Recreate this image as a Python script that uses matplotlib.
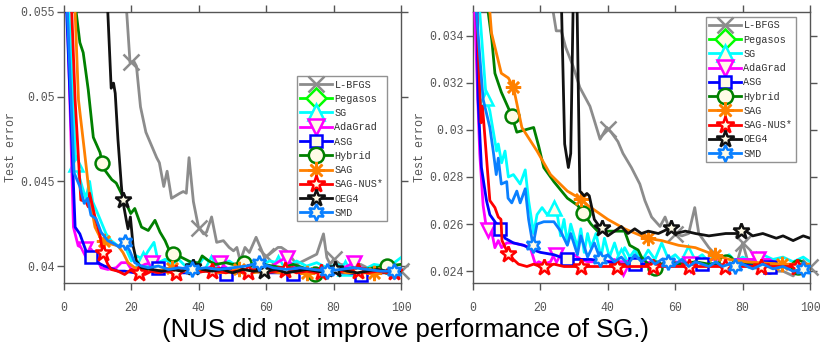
import numpy as np
import matplotlib
matplotlib.use("Agg")
from matplotlib import pyplot as plt
from matplotlib.lines import Line2D

# ---------------- data ----------------
names = ["L-BFGS", "Pegasos", "SG", "AdaGrad", "ASG", "Hybrid", "SAG", "SAG-NUS*", "OEG4", "SMD"]

# left panel
l_lbfgs_x = [0, 17, 18.6, 19.6, 20.7, 21.5, 22.7, 24.3, 27.5, 28.3, 29.6, 30.6, 31.9, 34.4, 35.4, 36.3, 37.1, 38.4,
             39.9, 41.4, 42.3, 43.8, 45.3, 47.3, 49, 50.3, 51.3, 52.3, 53.7, 55, 57, 58.5, 59.5, 61, 63.5, 64.5, 66,
             67.5, 69, 71, 73, 75, 77, 78, 79, 80, 82, 85, 88, 90, 93, 95, 97, 100]
l_lbfgs_y = [0.09, 0.062, 0.055, 0.0520, 0.0521, 0.0518, 0.0494, 0.0479, 0.0464, 0.0461, 0.0447, 0.0456, 0.0440,
             0.0443, 0.0444, 0.0443, 0.0464, 0.0438, 0.0423, 0.0419, 0.0420, 0.0429, 0.0414, 0.0415, 0.0411, 0.0409,
             0.0411, 0.0403, 0.0411, 0.0408, 0.0417, 0.0410, 0.0405, 0.0407, 0.0411, 0.0411, 0.0409, 0.0405, 0.0401,
             0.0403, 0.0405, 0.0407, 0.0419, 0.0405, 0.0401, 0.0404, 0.0401, 0.0400, 0.0401, 0.0399, 0.0400, 0.0397,
             0.0399, 0.0397]
l_pegasos_x = [0, 100]
l_pegasos_y = [0.09, 0.065]
l_sg_x = [0, 1.5, 3.5, 5.5, 6.5, 7.6, 8.5, 10, 12.5, 14, 16, 18, 20, 21.5, 23.5, 25, 26.7, 28, 30, 32, 34, 36, 38,
          40, 41.5, 43.5, 46, 49, 52, 55, 58, 61, 63.5, 66, 69, 72, 75, 78, 81, 83.5, 86, 89, 92, 95, 98, 100]
l_sg_y = [0.09, 0.055, 0.0460, 0.0446, 0.0440, 0.0450, 0.0438, 0.0431, 0.0419, 0.0415, 0.0412, 0.0412, 0.0403,
          0.0406, 0.0404, 0.0409, 0.0414, 0.0402, 0.0404, 0.0401, 0.0404, 0.0400, 0.0403, 0.0401, 0.0405, 0.0402,
          0.0400, 0.0403, 0.0399, 0.0402, 0.0400, 0.0403, 0.0402, 0.0399, 0.0403, 0.0400, 0.0402, 0.0399, 0.0401,
          0.0399, 0.0400, 0.0398, 0.0401, 0.0400, 0.0402, 0.0405]
l_ada_x = [0, 1, 2.8, 4.2, 6.2, 8, 9.2, 11, 13, 15.5, 17, 18.7, 20, 22, 24, 26, 28, 30, 33, 36, 39, 42, 46, 49, 52,
           55, 58, 61, 64, 66, 68, 71, 74, 77, 80, 83, 86, 89, 92, 95, 98, 100]
l_ada_y = [0.09, 0.055, 0.0423, 0.0412, 0.0410, 0.0410, 0.0407, 0.0399, 0.0398, 0.0399, 0.0402, 0.0402, 0.0398,
           0.0399, 0.0401, 0.0402, 0.0399, 0.0398, 0.0397, 0.0399, 0.0397, 0.0398, 0.0402, 0.0398, 0.0397, 0.0398,
           0.0397, 0.0399, 0.0403, 0.0405, 0.0400, 0.0398, 0.0397, 0.0398, 0.0397, 0.0399, 0.0402, 0.0398, 0.0397,
           0.0398, 0.0397, 0.0397]
l_asg_x = [0, 0.8, 3.3, 4.7, 6.7, 8.2, 10, 12, 13.6, 16, 18, 21, 24, 27.5, 30, 34, 38, 42, 47.5, 52, 56, 60, 64,
           67.5, 72, 76, 80, 84, 88, 92, 96, 100]
l_asg_y = [0.09, 0.055, 0.0423, 0.0419, 0.0408, 0.0405, 0.0402, 0.0400, 0.0399, 0.0397, 0.0397, 0.0396, 0.0397,
           0.0399, 0.0397, 0.0396, 0.0396, 0.0397, 0.03955, 0.0396, 0.0397, 0.0396, 0.0396, 0.03955, 0.0396, 0.0397,
           0.0396, 0.0396, 0.0395, 0.0396, 0.0396, 0.0396]
l_hyb_x = [0, 3.6, 4.7, 5.7, 7.2, 8.7, 10.7, 11.6, 14.2, 15.5, 18, 19.8, 21, 23, 25, 27, 28.5, 30, 31.5, 34, 36, 38,
           40, 41, 43, 45, 48, 50, 53, 56, 59, 62, 65, 68, 71, 74.5, 77, 80, 83, 86, 89, 92, 96, 100]
l_hyb_y = [0.09, 0.055, 0.0532, 0.0526, 0.0504, 0.0476, 0.0467, 0.0458, 0.0451, 0.0449, 0.0439, 0.0431, 0.0434,
           0.0423, 0.0421, 0.0427, 0.0420, 0.0415, 0.0408, 0.0406, 0.0404, 0.0402, 0.0402, 0.0406, 0.0403, 0.0401,
           0.0402, 0.0401, 0.0402, 0.0400, 0.0401, 0.0400, 0.0399, 0.0401, 0.0399, 0.0395, 0.0398, 0.0399, 0.0398,
           0.0399, 0.0398, 0.0399, 0.0400, 0.0401]
l_sag_x = [0, 3.3, 4.3, 6, 7.7, 9.2, 10.7, 12, 14, 16, 17.5, 19, 21, 24, 27, 30, 32, 35, 38, 42, 46, 50, 52, 56, 60,
           64, 68, 72, 76, 80, 84, 88, 92, 96, 100]
l_sag_y = [0.09, 0.055, 0.0498, 0.0469, 0.0439, 0.0423, 0.0417, 0.0415, 0.0413, 0.0412, 0.0408, 0.0402, 0.0399,
           0.0398, 0.0397, 0.0398, 0.0399, 0.0397, 0.0397, 0.0397, 0.0396, 0.0397, 0.0398, 0.0396, 0.0397, 0.0396,
           0.0397, 0.0396, 0.0396, 0.0397, 0.0396, 0.0396, 0.0396, 0.0397, 0.0396]
l_nus_x = [0, 2.3, 3.3, 5, 6.5, 7.2, 7.6, 9.2, 10.6, 11.5, 13, 14, 16, 18, 20, 22, 24, 26, 28, 30, 33, 36, 39, 42,
           45, 48, 51, 54, 57, 60, 63, 66, 69, 72, 75, 78, 81, 84, 87, 90, 93, 96, 100]
l_nus_y = [0.09, 0.055, 0.0498, 0.0439, 0.0438, 0.0435, 0.0443, 0.0429, 0.0419, 0.0408, 0.0401, 0.0398, 0.0397,
           0.0395, 0.0398, 0.0396, 0.0395, 0.0397, 0.0396, 0.0397, 0.0396, 0.0398, 0.0396, 0.0397, 0.0397, 0.0396,
           0.0397, 0.0396, 0.0398, 0.0396, 0.0397, 0.0398, 0.0396, 0.0397, 0.0396, 0.0397, 0.0396, 0.0398, 0.0397,
           0.0396, 0.0397, 0.0396, 0.0397]
l_oeg_x = [0, 12, 13, 14, 14.7, 15.2, 16, 17, 17.4, 18.5, 19, 19.7, 20.5, 21.5, 23, 26, 29, 32, 35, 38, 41, 44, 47,
           50, 53, 56, 59.5, 63, 66, 69, 72, 75, 78, 81, 84, 87, 90, 93, 96, 100]
l_oeg_y = [0.09, 0.062, 0.055, 0.0505, 0.0508, 0.0502, 0.0475, 0.0448, 0.0439, 0.0427, 0.0422, 0.0429, 0.0412,
           0.0403, 0.0399, 0.0398, 0.0397, 0.0398, 0.0397, 0.0400, 0.0398, 0.0397, 0.0398, 0.0396, 0.0398, 0.0397,
           0.0397, 0.0398, 0.0396, 0.0397, 0.0398, 0.0397, 0.0396, 0.0399, 0.0397, 0.0396, 0.0397, 0.0398, 0.0397,
           0.0397]
l_smd_x = [0, 1, 3, 4.7, 6, 7, 8, 9.5, 11, 13, 15, 16.5, 18, 19.5, 21, 23, 25, 28, 31, 34, 38, 42, 46, 50, 54, 58,
           62, 66, 70, 74, 78, 82, 86, 90, 94, 98, 100]
l_smd_y = [0.09, 0.055, 0.0455, 0.0447, 0.0437, 0.0440, 0.0430, 0.0428, 0.0420, 0.0415, 0.0413, 0.0411, 0.0414,
           0.0409, 0.0402, 0.0400, 0.0399, 0.0400, 0.0398, 0.0399, 0.0398, 0.0399, 0.0398, 0.0399, 0.0400, 0.0402,
           0.0399, 0.0398, 0.0399, 0.0398, 0.0397, 0.0398, 0.0399, 0.0398, 0.0397, 0.0397, 0.0398]

# right panel
r_lbfgs_x = [0, 20, 23.8, 24.7, 26.2, 27.5, 29.7, 31.7, 34.7, 36, 37.7, 38.5, 39.7, 41, 43, 44.5, 47, 49.5, 51, 53,
             55.5, 57, 58, 60, 62, 64, 65.8, 67, 70, 72, 75, 78, 80, 82, 85, 88, 90, 92, 95, 97, 100]
r_lbfgs_y = [0.05, 0.037, 0.035, 0.0342, 0.0342, 0.0335, 0.0327, 0.0318, 0.0310, 0.0304, 0.0296, 0.0298, 0.0301,
             0.0299, 0.0295, 0.0290, 0.0284, 0.0277, 0.0270, 0.0263, 0.0259, 0.0263, 0.0259, 0.0256, 0.0255, 0.0256,
             0.0267, 0.0256, 0.0250, 0.0247, 0.0243, 0.0242, 0.0252, 0.0242, 0.0241, 0.0239, 0.0240, 0.0240, 0.0238,
             0.0241, 0.0242]
r_pegasos_x = [0, 100]
r_pegasos_y = [0.05, 0.040]
r_sg_x = [0, 2, 3.9, 5, 7, 7.5, 8.5, 9.5, 10.5, 12, 13, 14, 15.5, 16.5, 18, 19, 20.5, 22, 23.8, 25, 26, 27, 28, 29,
          31, 32, 33, 34, 35, 36.5, 38, 39, 40.5, 42, 43.5, 45, 46.5, 48, 50, 52, 54, 56, 58, 60, 62, 64, 66, 68,
          70, 72, 74, 76, 78, 80, 83, 86, 89, 92, 95, 98, 100]
r_sg_y = [0.05, 0.035, 0.03135, 0.0308, 0.0291, 0.0294, 0.0286, 0.0291, 0.0280, 0.0281, 0.0279, 0.0277, 0.0283,
          0.0270, 0.0256, 0.0264, 0.0267, 0.0264, 0.0267, 0.0264, 0.0255, 0.0262, 0.0252, 0.0260, 0.0250, 0.0258,
          0.0248, 0.0256, 0.0250, 0.0256, 0.0246, 0.0254, 0.0246, 0.0252, 0.0245, 0.0250, 0.0246, 0.0249, 0.0244,
          0.0249, 0.0245, 0.0252, 0.0245, 0.0247, 0.0244, 0.0248, 0.0245, 0.0247, 0.0244, 0.0248, 0.0245, 0.0247,
          0.0244, 0.0246, 0.0244, 0.0247, 0.0245, 0.0246, 0.0244, 0.0246, 0.0244]
r_ada_x = [0, 0.5, 2, 3, 4, 5.5, 6.5, 7.5, 8.5, 10, 12, 15, 17, 18.5, 19.5, 21, 23, 24, 27, 30, 32, 34, 36, 38, 40,
           42, 44, 45, 47, 50, 53, 56, 60, 64, 68, 70, 75, 80, 85, 88, 90, 93, 96, 100]
r_ada_y = [0.05, 0.035, 0.0290, 0.0268, 0.0258, 0.0257, 0.0250, 0.0253, 0.0250, 0.0252, 0.0252, 0.0251, 0.0250,
           0.0243, 0.0244, 0.0243, 0.0244, 0.0247, 0.0247, 0.0247, 0.0245, 0.0244, 0.0244, 0.0245, 0.0244, 0.0245,
           0.0239, 0.0244, 0.0244, 0.0243, 0.0244, 0.0243, 0.0244, 0.0243, 0.0244, 0.0245, 0.0245, 0.0245, 0.0245,
           0.0245, 0.0243, 0.0242, 0.0242, 0.0242]
r_asg_x = [0, 1.2, 1.5, 2.5, 4, 5, 8, 9.5, 12, 15, 18, 20, 24, 28, 30, 35, 40, 44, 48, 55, 60, 68, 75, 80, 88, 95, 100]
r_asg_y = [0.05, 0.035, 0.0313, 0.0284, 0.0270, 0.0264, 0.0258, 0.0254, 0.0252, 0.0251, 0.0249, 0.0248, 0.0247,
           0.0245, 0.0245, 0.0245, 0.0244, 0.0243, 0.0243, 0.0243, 0.0243, 0.0243, 0.0243, 0.0243, 0.0242, 0.0242,
           0.0242]
r_hyb_x = [0, 4.5, 5.6, 6.5, 8.4, 11.5, 13, 15.5, 18, 19.5, 21, 24, 28, 31, 32.5, 35, 37, 41, 45, 46.5, 49, 50, 52,
           53.7, 56, 58, 62, 66, 70, 75, 80, 85, 90, 96, 100]
r_hyb_y = [0.05, 0.035, 0.0338, 0.0324, 0.0316, 0.0306, 0.0299, 0.0300, 0.0301, 0.0293, 0.0284, 0.0278, 0.0271,
           0.0268, 0.02653, 0.0260, 0.0257, 0.0257, 0.0257, 0.0251, 0.0249, 0.0246, 0.0243, 0.0241, 0.0243, 0.0244,
           0.0243, 0.0244, 0.0243, 0.0244, 0.0244, 0.0243, 0.0243, 0.0242, 0.0242]
r_sag_x = [0, 5, 5.5, 8.4, 10.5, 12, 14.5, 19, 23, 28, 31.8, 34, 37, 40, 45, 50, 51.5, 56, 61, 66, 71.5, 76, 81, 86,
           91.7, 96, 100]
r_sag_y = [0.05, 0.035, 0.0341, 0.0324, 0.0322, 0.0318, 0.0301, 0.0291, 0.0281, 0.0274, 0.02708, 0.0268, 0.0265,
           0.0262, 0.0258, 0.0255, 0.0254, 0.0253, 0.0251, 0.0250, 0.0247, 0.0245, 0.0244, 0.02435, 0.0243, 0.0243,
           0.0243]
r_nus_x = [0, 1.1, 2.4, 2.8, 3.2, 5, 6.5, 7.5, 8.3, 8.6, 10.5, 12, 13.5, 16, 18, 20, 22, 24, 27, 30, 35, 40, 45, 50,
           60, 70, 80, 90, 100]
r_nus_y = [0.05, 0.035, 0.0303, 0.0310, 0.0303, 0.0270, 0.0267, 0.0263, 0.0262, 0.0253, 0.02473, 0.0245, 0.0243,
           0.0242, 0.0243, 0.0242, 0.0242, 0.0243, 0.0242, 0.0242, 0.0242, 0.0242, 0.0242, 0.0242, 0.0242, 0.0242,
           0.0242, 0.0242, 0.0242]
r_oeg_x = [0, 25, 26.3, 27.2, 28.3, 29, 29.8, 30.8, 31.7, 33, 33.8, 34.5, 36, 37, 38.2, 40, 42, 44, 46, 48, 50, 52,
           55, 58, 58.7, 60, 63, 66, 70, 75, 79, 80, 83, 86, 90, 92, 95, 98, 100]
r_oeg_y = [0.05, 0.04, 0.035, 0.0294, 0.0284, 0.0290, 0.036, 0.036, 0.0274, 0.0272, 0.0273, 0.0272, 0.0262, 0.0260,
           0.02583, 0.0255, 0.0257, 0.0259, 0.0256, 0.0258, 0.0256, 0.0257, 0.0256, 0.0258, 0.0259, 0.0256, 0.0257,
           0.0256, 0.0255, 0.0256, 0.0256, 0.0258, 0.0255, 0.0256, 0.0254, 0.0255, 0.0253, 0.0255, 0.0254]
r_smd_x = [0, 1, 3, 5, 6, 6.9, 7.5, 8.4, 10, 10.4, 11.5, 13, 14, 15.5, 16.5, 17.8, 19, 21, 24, 26, 28, 29, 31, 32,
           34, 36, 37.8, 40, 42, 44, 46, 48, 50, 52, 54, 56, 58, 60, 62, 64, 66, 68, 70, 72, 74, 76, 78, 80, 83, 86,
           89, 92, 95, 98, 100]
r_smd_y = [0.05, 0.035, 0.0313, 0.0301, 0.0291, 0.0281, 0.0288, 0.0277, 0.0278, 0.0271, 0.0269, 0.0274, 0.0269,
           0.0275, 0.0262, 0.0251, 0.0260, 0.0261, 0.0261, 0.0257, 0.0251, 0.0256, 0.0247, 0.0255, 0.0246, 0.0252,
           0.0245, 0.0247, 0.0244, 0.0246, 0.0243, 0.0247, 0.0244, 0.0246, 0.0243, 0.0245, 0.0244, 0.0243, 0.0245,
           0.0242, 0.0244, 0.0243, 0.0242, 0.0244, 0.0242, 0.0243, 0.0242, 0.0243, 0.0241, 0.0243, 0.0241, 0.0242,
           0.0240, 0.0241, 0.0242]

left_series = [(l_lbfgs_x, l_lbfgs_y), (l_pegasos_x, l_pegasos_y), (l_sg_x, l_sg_y), (l_ada_x, l_ada_y),
               (l_asg_x, l_asg_y), (l_hyb_x, l_hyb_y), (l_sag_x, l_sag_y), (l_nus_x, l_nus_y),
               (l_oeg_x, l_oeg_y), (l_smd_x, l_smd_y)]
right_series = [(r_lbfgs_x, r_lbfgs_y), (r_pegasos_x, r_pegasos_y), (r_sg_x, r_sg_y), (r_ada_x, r_ada_y),
                (r_asg_x, r_asg_y), (r_hyb_x, r_hyb_y), (r_sag_x, r_sag_y), (r_nus_x, r_nus_y),
                (r_oeg_x, r_oeg_y), (r_smd_x, r_smd_y)]

# marker placement (start, spacing) in x units
left_marks = [(20, 20), (10, 20), (3.5, 20), (6.2, 20), (8, 20), (11.3, 21.1), (12, 20), (11.5, 10.8),
              (17.4, 21), (18, 20)]
right_marks = [(20, 20), (10, 20), (3.9, 20), (4.5, 20), (8, 20), (11.5, 21.2), (12, 19.9), (10.5, 10.7),
               (17.5, 20.7), (17.8, 20)]

# ---------------- styles ----------------
colors = ["#8c8c8c", "#00ff00", "#00ffff", "#ff00ff", "#0000ff", "#008000", "#ff8000", "#ff0000", "#111111", "#0a80ff"]
markers = ["x", "D", "^", "v", "s", "o", (8, 2, 0), "*", "*", (6, 1, 0)]
msizes = [11, 9, 10, 10, 8, 10, 11, 12, 12, 11]
face = "#fffbe6"
mono = "Liberation Mono"
gray = "#555555"

fig = plt.figure(figsize=(8.23, 3.45), dpi=100)
ax_l = fig.add_axes([64 / 823, 1 - 283 / 345, 337 / 823, 271 / 345])
ax_r = fig.add_axes([473 / 823, 1 - 283 / 345, 337 / 823, 271 / 345])


def draw(ax, series, marks, ylim, yticks, ylabels, legend_anchor):
    for i, ((x, y), (start, step)) in enumerate(zip(series, marks)):
        ax.plot(x, y, color=colors[i], lw=2.0, zorder=2 + i)
        mx = np.arange(start, 100.01, step)
        my = np.interp(mx, x, y)
        keep = my <= ylim[1]
        ax.plot(mx[keep], my[keep], ls="none", marker=markers[i], ms=msizes[i], mfc=face,
                mec=colors[i], mew=1.8, zorder=2 + i, clip_on=False)
    ax.set_xlim(0, 100)
    ax.set_ylim(*ylim)
    ax.set_xticks([0, 20, 40, 60, 80, 100])
    ax.set_yticks(yticks)
    ax.set_yticklabels(ylabels)
    ax.tick_params(direction="out", length=5, width=1, colors=gray, top=True, right=True,
                   labelsize=8.3)
    ax.tick_params(axis="x", pad=9)
    ax.tick_params(axis="y", pad=2)
    for lab in ax.get_xticklabels() + ax.get_yticklabels():
        lab.set_family(mono)
    for s in ax.spines.values():
        s.set_color(gray)
        s.set_linewidth(1.0)
    ax.set_ylabel("Test error", family=mono, fontsize=8.5, color=gray, labelpad=2)

    handles = [Line2D([0], [0], color=colors[i], lw=2.0, marker=markers[i], ms=msizes[i] + 1,
                      mfc=face, mec=colors[i], mew=1.8) for i in range(len(names))]
    leg = ax.legend(handles, names, loc="upper left", bbox_to_anchor=legend_anchor,
                    borderaxespad=0, prop={"family": mono, "size": 7.3}, frameon=True,
                    fancybox=False, edgecolor="#777777", handlelength=3.1, handletextpad=0.25,
                    labelspacing=0.42, borderpad=0.35)
    leg.get_frame().set_linewidth(1.0)
    leg.set_zorder(20)
    for t in leg.get_texts():
        t.set_color("#333333")


draw(ax_l, left_series, left_marks, (0.039, 0.055), [0.04, 0.045, 0.05, 0.055],
     ["0.04", "0.045", "0.05", "0.055"], (0.691, 0.764))
draw(ax_r, right_series, right_marks, (0.0235, 0.035), [0.024, 0.026, 0.028, 0.03, 0.032, 0.034],
     ["0.024", "0.026", "0.028", "0.03", "0.032", "0.034"], (0.691, 0.982))

fig.text(0.493, 1 - 330 / 345, "(NUS did not improve performance of SG.)", ha="center", va="center",
         family="Liberation Sans", fontsize=18.5, color="black")

fig.savefig("out.png", dpi=100)
